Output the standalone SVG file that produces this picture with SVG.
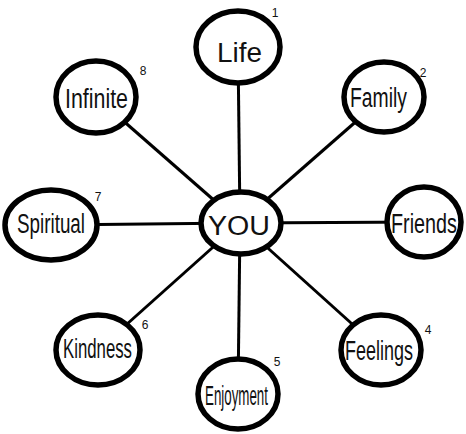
<svg xmlns="http://www.w3.org/2000/svg" width="466" height="434" viewBox="0 0 466 434">
<style>
.n{fill:#fff;stroke:#000;stroke-width:5.5}
.t{font-family:"Liberation Sans",Arial,sans-serif;font-size:27px;fill:#111;text-anchor:middle}
.k{font-family:"Liberation Sans",Arial,sans-serif;font-size:12px;fill:#111;text-anchor:middle}
.c line{stroke:#000;stroke-width:3}
</style>
<rect width="466" height="434" fill="#fff"/>
<g id="connectors" class="c">
<line x1="240" y1="223" x2="238" y2="48"/>
<line x1="240" y1="223" x2="384" y2="97"/>
<line x1="240" y1="223" x2="424" y2="222"/>
<line x1="240" y1="223" x2="381" y2="350"/>
<line x1="240" y1="223" x2="238" y2="395"/>
<line x1="240" y1="223" x2="98" y2="350"/>
<line x1="240" y1="223" x2="51" y2="225"/>
<line x1="240" y1="223" x2="96" y2="97"/>
</g>
<g id="you"><ellipse class="n" cx="241" cy="223" rx="40" ry="31"/><text class="t" x="239" y="235" font-size="30" textLength="62" lengthAdjust="spacingAndGlyphs">YOU</text></g>
<g id="life"><ellipse class="n" cx="238" cy="47" rx="42" ry="36"/><text class="t" x="239.5" y="62" font-size="31" textLength="45" lengthAdjust="spacingAndGlyphs">Life</text><text class="k" x="275" y="17">1</text></g>
<g id="family"><ellipse class="n" cx="384" cy="97" rx="40" ry="35"/><text class="t" x="378.5" y="107" textLength="57" lengthAdjust="spacingAndGlyphs">Family</text><text class="k" x="423" y="77">2</text></g>
<g id="friends"><ellipse class="n" cx="424" cy="222" rx="37" ry="35"/><text class="t" transform="translate(424,233) scale(0.733,1)" x="0" y="0">Friends</text></g>
<g id="feelings"><ellipse class="n" cx="381" cy="350" rx="40" ry="35"/><text class="t" x="379" y="360" textLength="68" lengthAdjust="spacingAndGlyphs">Feelings</text><text class="k" x="428" y="334">4</text></g>
<g id="enjoyment"><ellipse class="n" cx="238" cy="394" rx="40" ry="35"/><text class="t" x="236.5" y="405" font-size="21" textLength="63" lengthAdjust="spacingAndGlyphs">Enjoyment</text><text class="k" x="277" y="366">5</text></g>
<g id="kindness"><ellipse class="n" cx="98" cy="350" rx="42" ry="35"/><text class="t" x="97.5" y="358" font-size="25" textLength="69" lengthAdjust="spacingAndGlyphs">Kindness</text><text class="k" x="145" y="329">6</text></g>
<g id="spiritual"><ellipse class="n" cx="51" cy="225" rx="46" ry="35"/><text class="t" x="51" y="233" textLength="68" lengthAdjust="spacingAndGlyphs">Spiritual</text><text class="k" x="98" y="201">7</text></g>
<g id="infinite"><ellipse class="n" cx="96" cy="97" rx="40" ry="36"/><text class="t" x="96.5" y="108" textLength="63" lengthAdjust="spacingAndGlyphs">Infinite</text><text class="k" x="143" y="75">8</text></g>
</svg>
